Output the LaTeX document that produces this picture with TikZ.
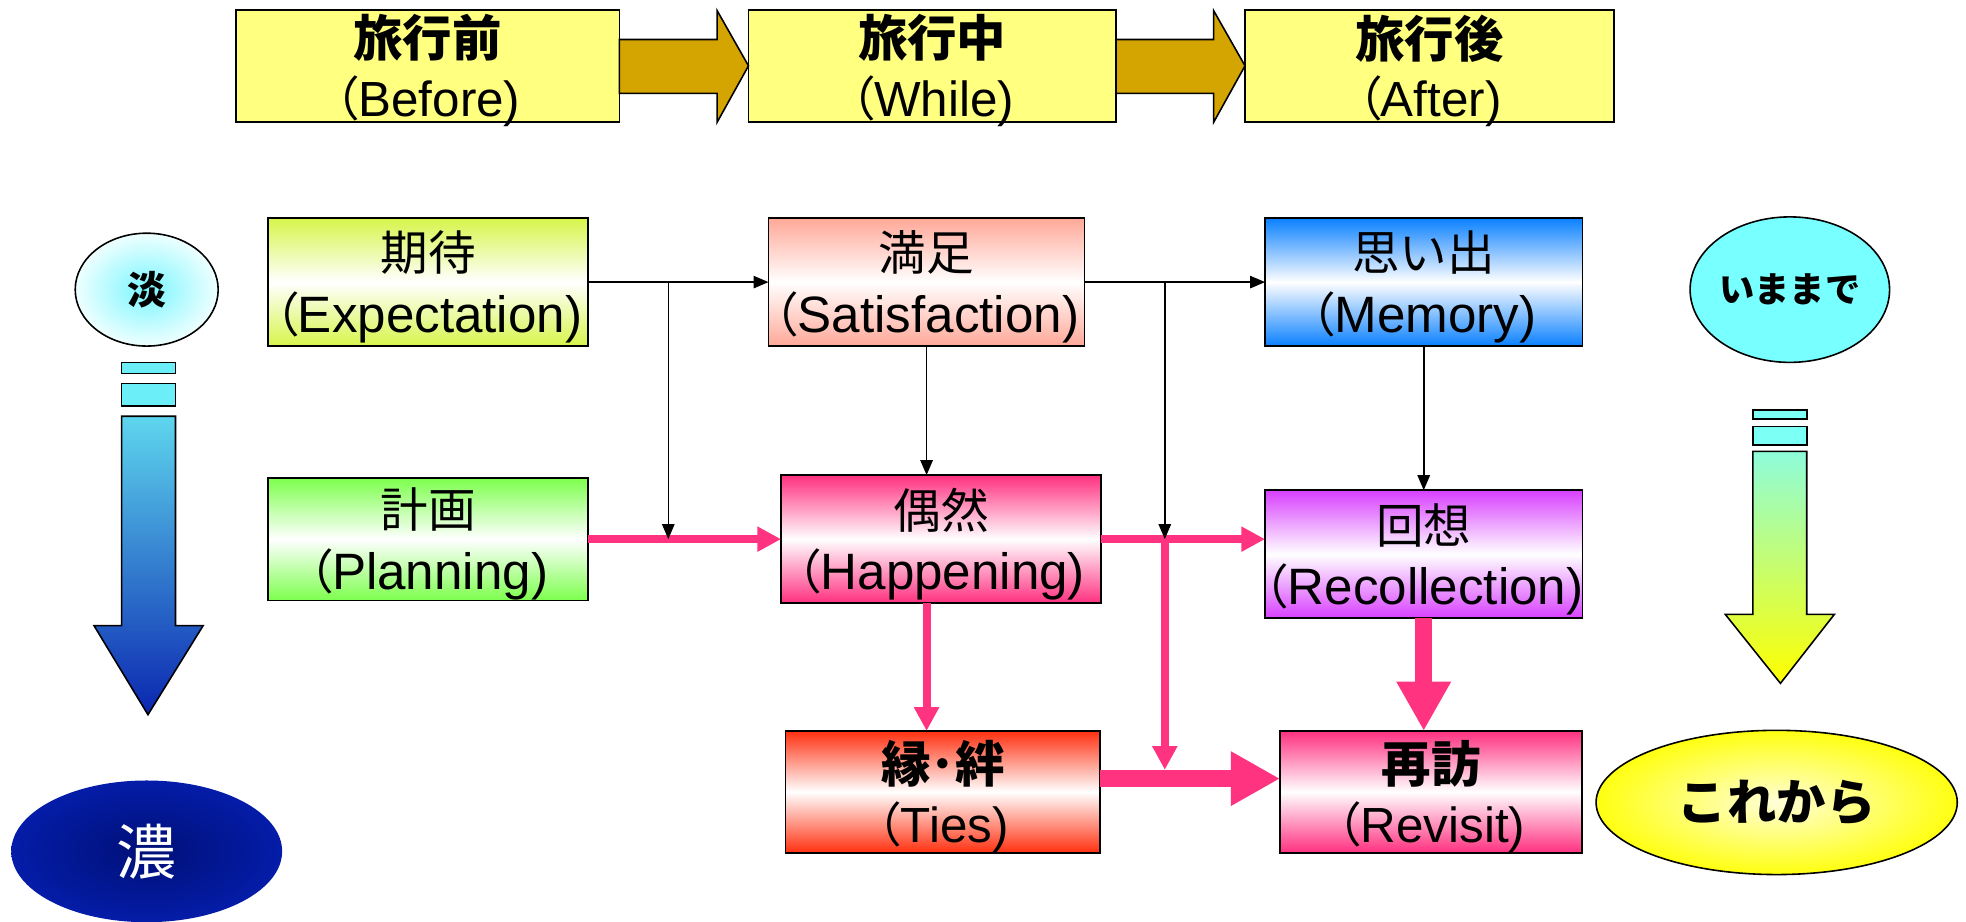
\documentclass[tikz,border=0pt]{standalone}
\usepackage{fontspec}
\setmainfont{Liberation Sans}
\newfontfamily\jpf{Noto Sans CJK JP}
\newfontfamily\jpp[RawFeature=+palt]{Noto Sans CJK JP}
\newcommand\jpt[1]{{\jpf\fontsize{27}{34}\selectfont #1}}
\newcommand\jpb[1]{{\jpf\bfseries\fontsize{28}{34}\selectfont #1}}
\newcommand\lpar{{\jpp\fontsize{27}{34}\selectfont （}}
\usetikzlibrary{arrows.meta,shapes.geometric,calc}
\definecolor{boxyel}{HTML}{FFFF80}
\definecolor{gold}{HTML}{D4A500}
\definecolor{cexp}{HTML}{D6F54A}
\definecolor{csat}{HTML}{FFA898}
\definecolor{cmem}{HTML}{0A80FF}
\definecolor{cplan}{HTML}{7CFF4C}
\definecolor{chap}{HTML}{FF3080}
\definecolor{crec}{HTML}{D840FF}
\definecolor{cties}{HTML}{FF3010}
\definecolor{crev}{HTML}{FF3080}
\definecolor{pinkln}{HTML}{FF3380}
\definecolor{lbar}{HTML}{6CEEF8}
\definecolor{ltop}{HTML}{5ED6EE}
\definecolor{lbot}{HTML}{0A26B0}
\definecolor{rbar}{HTML}{7CFFF4}
\definecolor{rtop}{HTML}{8EFCDA}
\definecolor{rbot}{HTML}{FFFF00}
\definecolor{tanin}{HTML}{78F6FF}
\definecolor{tanout}{HTML}{EFFFFF}
\definecolor{nouin}{HTML}{001078}
\definecolor{nouout}{HTML}{041CA8}
\definecolor{imafill}{HTML}{78FFFF}
\definecolor{korein}{HTML}{FFFFD8}
\definecolor{koreout}{HTML}{FFFF10}
\begin{document}
\begin{tikzpicture}[x=0.025cm,y=-0.025cm,
  every node/.style={inner sep=0pt, outer sep=0pt},
  topbox/.style={draw=black, line width=1pt, fill=boxyel, minimum height=2.225cm},
  gbox/.style={draw=black, line width=1pt, top color=#1, bottom color=#1, middle color=white},
  toplab/.style={align=center, font=\fontsize{28}{34}\selectfont},
  lab/.style={align=center, font=\fontsize{29}{35}\selectfont},
  blk/.style={draw=black, line width=0.9pt, -{Triangle[length=8.5pt,width=7pt]}},
  pk/.style={draw=pinkln, line width=4.6pt, -{Triangle[length=13.5pt,width=13.5pt]}},
  pkthick/.style={draw=pinkln, line width=9.6pt, -{Triangle[length=28pt,width=29pt]}},
  outl/.style={draw=black, line width=0.9pt},
]
\useasboundingbox (0,0) rectangle (1568,735);

% top row
\node[topbox, minimum width=7.65cm] (before) at (341,52.5) {};
\node[topbox, minimum width=7.325cm] (while) at (743.5,52.5) {};
\node[topbox, minimum width=7.35cm] (after) at (1140,52.5) {};
\node[toplab] (beforet) at ($(before)+(0,4)$) {\jpb{旅行前}\\\lpar Before)};
\node[toplab] (whilet) at ($(while)+(0,4)$) {\jpb{旅行中}\\\lpar While)};
\node[toplab] (aftert) at ($(after)+(0,4)$) {\jpb{旅行後}\\\lpar After)};

\draw[outl, fill=gold] ($(before.east)+(0,-21)$) -- ($(while.west)+(-25,-21)$) -- ($(while.west)+(-25,-44)$) -- (while.west) -- ($(while.west)+(-25,45)$) -- ($(while.west)+(-25,22)$) -- ($(before.east)+(0,22)$) -- cycle;
\draw[outl, fill=gold] ($(while.east)+(0,-21)$) -- ($(after.west)+(-25,-21)$) -- ($(after.west)+(-25,-44)$) -- (after.west) -- ($(after.west)+(-25,45)$) -- ($(after.west)+(-25,22)$) -- ($(while.east)+(0,22)$) -- cycle;

% boxes
\node[gbox=cexp, minimum width=6.375cm, minimum height=2.55cm] (exp) at (341.5,225) {};
\node[gbox=csat, minimum width=6.3cm, minimum height=2.55cm] (sat) at (739,225) {};
\node[gbox=cmem, minimum width=6.325cm, minimum height=2.55cm] (mem) at (1135.5,225) {};
\node[gbox=cplan, minimum width=6.375cm, minimum height=2.45cm] (plan) at (341.5,430) {};
\node[gbox=chap, minimum width=6.375cm, minimum height=2.55cm] (hap) at (750.5,430) {};
\node[gbox=crec, minimum width=6.325cm, minimum height=2.55cm] (rec) at (1135.5,442) {};
\node[gbox=cties, minimum width=6.275cm, minimum height=2.425cm] (ties) at (752,631.5) {};
\node[gbox=crev, minimum width=6.025cm, minimum height=2.425cm] (rev) at (1141.5,631.5) {};

\node[lab] (expt) at ($(exp)+(0,4)$) {\jpt{期待}\\\lpar Expectation)};
\node[lab] (satt) at ($(sat)+(0,4)$) {\jpt{満足}\\\lpar Satisfaction)};
\node[lab] (memt) at ($(mem)+(0,4)$) {\jpt{思い出}\\\lpar Memory)};
\node[lab] (plant) at ($(plan)+(0,4)$) {\jpt{計画}\\\lpar Planning)};
\node[lab] (hapt) at ($(hap)+(0,4)$) {\jpt{偶然}\\\lpar Happening)};
\node[lab] (rect) at ($(rec)+(0,4)$) {\jpt{回想}\\\lpar Recollection)};
\node[toplab] (tiest) at ($(ties)+(0,3.5)$) {\jpb{縁･絆}\\\lpar Ties)};
\node[toplab] (revt) at ($(rev)+(0,3.5)$) {\jpb{再訪}\\\lpar Revisit)};

% branch points
\coordinate (b1) at (533,225);
\coordinate (b2) at (929,225);
\coordinate (t1) at ($(ties.east)+(0,-10.5)$);

% pink connectors
\draw[pk] (plan.east) -- (hap.west);
\draw[pk] (hap.east) -- (hap.east -| rec.west);
\draw[pk] (sat.south |- hap.south) -- (sat.south |- ties.north);
\draw[pk] (b2 |- hap.east) -- ($(b2 |- t1)+(0,-7)$);
\draw[pkthick] (t1) -- (t1 -| rev.west);
\draw[pkthick] (rec.south) -- (rec.south |- rev.north);

% black connectors
\draw[blk] (exp.east) -- (sat.west);
\draw[blk] (b1) -- (b1 |- plan.east);
\draw[blk] (sat.south) -- (sat.south |- hap.north);
\draw[blk] (sat.east) -- (mem.west);
\draw[blk] (b2) -- (b2 |- hap.east);
\draw[blk] (mem.south) -- (mem.south |- rec.north);

% left side
\node[ellipse, outl, minimum width=2.85cm, minimum height=2.25cm, inner color=tanin, outer color=tanout, font=\jpf\bfseries\fontsize{22}{22}\selectfont] (tan) at (117,231) {淡};
\draw[outl, fill=lbar] (97,289) rectangle (140,298);
\draw[outl, fill=lbar] (97,306) rectangle (140,324);
\shade[outl, top color=ltop, bottom color=lbot] (97,332) -- (140,332) -- (140,499) -- (162,499) -- (118,570) -- (75,499) -- (97,499) -- cycle;
\node[ellipse, minimum width=5.4cm, minimum height=2.825cm, inner color=nouin, outer color=nouout, text=white, font=\jpf\fontsize{34}{34}\selectfont] (nou) at (117,679) {濃};

% right side
\node[ellipse, outl, fill=imafill, minimum width=3.875cm, minimum height=2.9cm, font=\jpf\bfseries\fontsize{20}{20}\selectfont] (ima) at (1427.5,231) {いままで};
\draw[outl, fill=rbar] (1398,327) rectangle (1441,334);
\draw[outl, fill=rbar] (1398,340) rectangle (1441,355);
\shade[outl, top color=rtop, bottom color=rbot] (1398,360) -- (1441,360) -- (1441,490) -- (1463,490) -- (1420,545) -- (1376,490) -- (1398,490) -- cycle;
\node[ellipse, outl, minimum width=7.2cm, minimum height=2.875cm, inner color=korein, outer color=koreout, font=\jpf\bfseries\fontsize{28}{28}\selectfont] (kore) at (1417,640) {これから};
\end{tikzpicture}
\end{document}
